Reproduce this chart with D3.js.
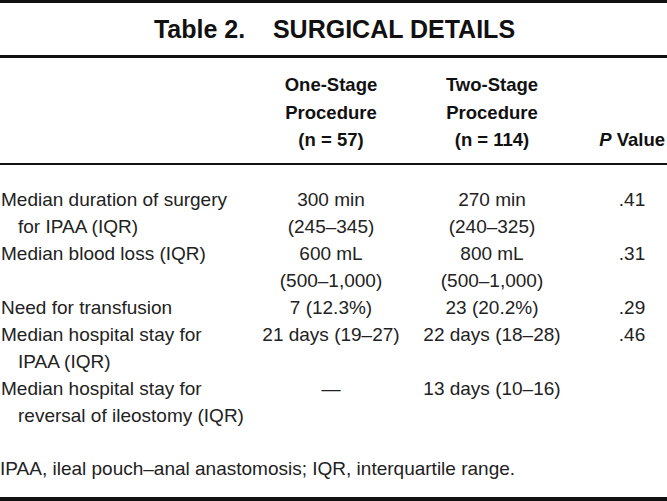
<!doctype html>
<html lang='en'>
<head>
    <meta charset='UTF-8'>
    <title>Table 2</title>
    <style>
        body,html{
            margin: 0;
            padding: 0;
            background: #fff;
        }
        svg{ display: block; }
        .title{
            font-family: 'Liberation Sans', Arial, sans-serif;
            font-weight: bold;
            font-size: 25px;
            fill: #111;
        }
        .head{
            font-family: 'Liberation Sans', Arial, sans-serif;
            font-weight: bold;
            font-size: 18.5px;
            fill: #111;
        }
        .cell{
            font-family: 'Liberation Sans', Arial, sans-serif;
            font-size: 19px;
            fill: #222;
        }
        .rule{
            stroke: #111;
            shape-rendering: crispEdges;
        }
    </style>
</head>
<body>
<script src='https://d3js.org/d3.v7.min.js'></script>
<script>
  // 表格数据
  const title = 'Table 2.\u00a0\u00a0\u00a0\u00a0SURGICAL DETAILS'
  const headOne = ['One-Stage', 'Procedure', '(n = 57)']
  const headTwo = ['Two-Stage', 'Procedure', '(n = 114)']
  const rowLabels = [
    ['Median duration of surgery', 'for IPAA (IQR)'],
    ['Median blood loss (IQR)'],
    ['Need for transfusion'],
    ['Median hospital stay for', 'IPAA (IQR)'],
    ['Median hospital stay for', 'reversal of ileostomy (IQR)']
  ]
  const oneStage = [
    ['300 min', '(245\u2013345)'],
    ['600 mL', '(500\u20131,000)'],
    ['7 (12.3%)'],
    ['21 days (19\u201327)'],
    ['\u2014']
  ]
  const twoStage = [
    ['270 min', '(240\u2013325)'],
    ['800 mL', '(500\u20131,000)'],
    ['23 (20.2%)'],
    ['22 days (18\u201328)'],
    ['13 days (10\u201316)']
  ]
  const pValues = ['.41', '.31', '.29', '.46', '']
  const footnote = 'IPAA, ileal pouch\u2013anal anastomosis; IQR, interquartile range.'

  const w = 667
  const h = 501

  const svg = d3.select('body').append('svg')
    .attr('width', w)
    .attr('height', h)

  // 列位置
  const x = d3.scaleOrdinal()
    .domain(['label', 'one', 'two', 'p'])
    .range([1, 331, 492, 632])

  // 行位置 (每一行文字)
  const headY = d3.scaleLinear().domain([0, 1]).range([91, 118.5])
  const bodyY = d3.scaleLinear().domain([0, 1]).range([206, 233])

  // 横线
  const rules = [
    {y: 1.5, sw: 3.5},
    {y: 56, sw: 3},
    {y: 164, sw: 2},
    {y: 498.5, sw: 4}
  ]
  svg.selectAll('.rule')
    .data(rules)
    .enter()
    .append('line')
    .classed('rule', true)
    .attr('x1', 0)
    .attr('x2', w)
    .attr('y1', d => d.y)
    .attr('y2', d => d.y)
    .attr('stroke-width', d => d.sw)

  svg.append('text')
    .classed('title', true)
    .attr('x', w / 2 + 1)
    .attr('y', 38)
    .attr('text-anchor', 'middle')
    .text(title)

  // 表头
  const head = svg.append('g')
  ;[[headOne, 'one'], [headTwo, 'two']].forEach(([lines, key]) => {
    head.selectAll(null)
      .data(lines)
      .enter()
      .append('text')
      .classed('head', true)
      .attr('x', x(key))
      .attr('y', (d, i) => headY(i))
      .attr('text-anchor', 'middle')
      .text(d => d)
  })
  const pHead = head.append('text')
    .classed('head', true)
    .attr('x', 665)
    .attr('y', headY(2))
    .attr('text-anchor', 'end')
  pHead.append('tspan').style('font-style', 'italic').text('P')
  pHead.append('tspan').text(' Value')

  // 表体: 计算每行起始的文字行序号
  let lineIdx = 0
  const rows = rowLabels.map((lab, i) => {
    const n = Math.max(lab.length, oneStage[i].length, twoStage[i].length)
    const r = {start: lineIdx, label: lab, one: oneStage[i], two: twoStage[i], p: pValues[i]}
    lineIdx += n
    return r
  })

  const body = svg.append('g')
  const rowG = body.selectAll('.row')
    .data(rows)
    .enter()
    .append('g')
    .classed('row', true)

  rowG.selectAll('.lab')
    .data(d => d.label.map((t, j) => ({t, j, start: d.start})))
    .enter()
    .append('text')
    .classed('cell lab', true)
    .attr('x', d => x('label') + (d.j > 0 ? 17 : 0))
    .attr('y', d => bodyY(d.start + d.j))
    .text(d => d.t)

  ;['one', 'two'].forEach(key => {
    rowG.selectAll('.c-' + key)
      .data(d => d[key].map((t, j) => ({t, j, start: d.start})))
      .enter()
      .append('text')
      .classed('cell c-' + key, true)
      .attr('x', x(key))
      .attr('y', d => bodyY(d.start + d.j))
      .attr('text-anchor', 'middle')
      .text(d => d.t)
  })

  rowG.append('text')
    .classed('cell', true)
    .attr('x', x('p'))
    .attr('y', d => bodyY(d.start))
    .attr('text-anchor', 'middle')
    .text(d => d.p)

  svg.append('text')
    .classed('cell', true)
    .attr('x', 0)
    .attr('y', 475)
    .text(footnote)
</script>
</body>
</html>
